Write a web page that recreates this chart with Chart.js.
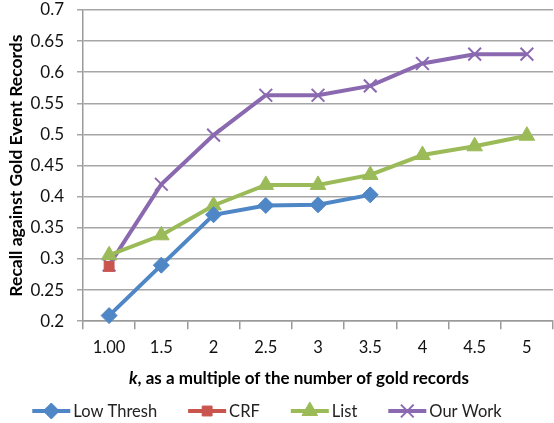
<!DOCTYPE html>
<html>
<head>
<meta charset="utf-8">
<script src="https://cdn.jsdelivr.net/npm/chart.js@4/dist/chart.umd.min.js"></script>
<style>
  html, body { margin: 0; padding: 0; background: #fff; }
  #wrap { width: 554px; height: 423px; }
</style>
</head>
<body>
<div id="wrap"><canvas id="recallChart" width="554" height="423"></canvas></div>
<script>
// ── DATA ──
const categories = ['1.00', '1.5', '2', '2.5', '3', '3.5', '4', '4.5', '5'];
const lowThresh = [0.209, 0.29, 0.371, 0.386, 0.387, 0.403, null, null, null];
const crf       = [0.288, null, null, null, null, null, null, null, null];
const list      = [0.306, 0.338, 0.386, 0.419, 0.419, 0.435, 0.467, 0.481, 0.498];
const ourWork   = [0.29, 0.42, 0.499, 0.563, 0.563, 0.578, 0.614, 0.629, 0.629];
const seriesNames = ['Low Thresh', 'CRF', 'List', 'Our Work'];

const FONT = 'Lato, "Open Sans", sans-serif';

// legend + x title drawn by hand (Excel style: line through marker, italic k)
const excelExtras = {
  id: 'excelExtras',
  afterDraw(chart) {
    const ctx = chart.ctx;
    ctx.save();

    // x axis title
    const ty = 379;
    ctx.fillStyle = '#000';
    ctx.textBaseline = 'middle';
    const part1 = 'k';
    const part2 = ', as a multiple of the number of gold records';
    ctx.font = 'italic bold 17px ' + FONT;
    const w1 = ctx.measureText(part1).width;
    ctx.font = 'bold 17px ' + FONT;
    const w2 = ctx.measureText(part2).width;
    const tx = 299 - (w1 + w2) / 2;
    ctx.font = 'italic bold 17px ' + FONT;
    ctx.fillText(part1, tx, ty);
    ctx.font = 'bold 17px ' + FONT;
    ctx.fillText(part2, tx + w1, ty);

    // legend
    const ly = 411;
    ctx.font = '16.5px ' + FONT;
    const lineLen = 38, gapText = 3, gapItem = 31;
    const widths = seriesNames.map(n => lineLen + gapText + ctx.measureText(n).width);
    const total = widths.reduce((a, b) => a + b, 0) + gapItem * (widths.length - 1);
    let x = 267 - total / 2;
    chart.data.datasets.forEach((ds, i) => {
      ctx.strokeStyle = ds.borderColor;
      ctx.lineWidth = 4;
      ctx.beginPath();
      ctx.moveTo(x, ly);
      ctx.lineTo(x + lineLen, ly);
      ctx.stroke();
      ctx.fillStyle = ds.pointBackgroundColor;
      ctx.strokeStyle = ds.pointBorderColor;
      ctx.lineWidth = ds.pointBorderWidth;
      Chart.helpers.drawPoint(ctx, {
        pointStyle: ds.pointStyle,
        radius: ds.pointRadius,
        rotation: 0,
        borderWidth: ds.pointBorderWidth,
      }, x + lineLen / 2, ly);
      ctx.fillStyle = '#222';
      ctx.fillText(seriesNames[i], x + lineLen + gapText, ly + 1);
      x += widths[i] + gapItem;
    });
    ctx.restore();
  }
};

function makeSet(label, data, color, style, radius) {
  return {
    label,
    data,
    borderColor: color,
    backgroundColor: color,
    pointBackgroundColor: color,
    pointBorderColor: color,
    pointBorderWidth: style === 'crossRot' ? 2 : 1,
    pointStyle: style,
    pointRadius: radius,
    borderWidth: 4,
    tension: 0,
    spanGaps: false,
    clip: 10,
  };
}

window.addEventListener('DOMContentLoaded', () => {
  const ctx = document.getElementById('recallChart').getContext('2d');
  new Chart(ctx, {
    type: 'line',
    data: {
      labels: categories,
      datasets: [
        makeSet('Low Thresh', lowThresh, '#4f86c6', 'rectRot', 8),
        makeSet('CRF', crf, '#c9554f', 'rect', 7),
        makeSet('List', list, '#9bbb59', 'triangle', 9),
        makeSet('Our Work', ourWork, '#8a69b0', 'crossRot', 9),
      ],
    },
    options: {
      responsive: false,
      animation: false,
      layout: { autoPadding: false, padding: { top: 10, right: 1, bottom: 56, left: 6 } },
      plugins: {
        legend: { display: false },
        tooltip: { enabled: false },
      },
      scales: {
        x: {
          offset: true,
          grid: { display: true, drawOnChartArea: false, offset: true, color: '#9a9a9a', lineWidth: 1.5, tickLength: 8 },
          border: { color: '#9a9a9a', width: 1.5 },
          ticks: { color: '#111', font: { family: FONT, size: 16.5 }, padding: 9, maxRotation: 0 },
        },
        y: {
          min: 0.2,
          max: 0.7,
          afterFit: s => { s.paddingTop = 0; s.paddingBottom = 0; s.width = 77; },
          grid: { color: '#a6a6a6', lineWidth: 1.5, tickLength: 6 },
          border: { color: '#9a9a9a', width: 1.5 },
          ticks: { stepSize: 0.05, color: '#111', font: { family: FONT, size: 17 }, padding: 13,
                   callback: v => Math.round(v * 100) / 100 },
          title: { display: true, text: 'Recall against Gold Event Records', color: '#000',
                   font: { family: FONT, size: 17.5, weight: 'bold' }, padding: { top: 0, bottom: 4 } },
        },
      },
    },
    plugins: [excelExtras],
  });
});
</script>
</body>
</html>
